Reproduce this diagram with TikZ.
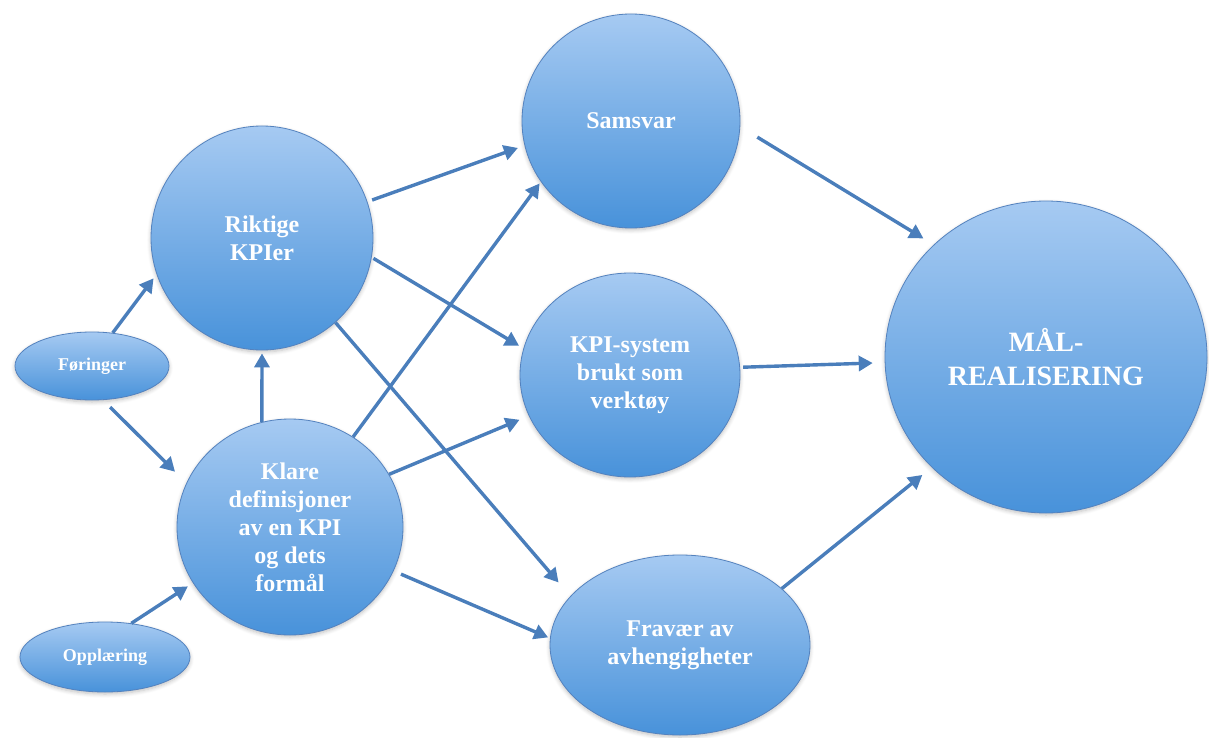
\documentclass[tikz,border=0pt]{standalone}
\usepackage{fontspec}
\setmainfont{Liberation Serif}
\usetikzlibrary{shapes.geometric,arrows.meta,shadows.blur}

\definecolor{bubtop}{RGB}{166,202,242}
\definecolor{bubbot}{RGB}{72,146,218}
\definecolor{bubline}{RGB}{84,130,190}
\definecolor{arrowc}{RGB}{74,126,187}

\tikzset{
  bub/.style={ellipse, inner sep=0pt, draw=bubline, line width=0.8pt,
    top color=bubtop, bottom color=bubbot, text=white, align=center,
    font=\bfseries\fontsize{24}{28}\selectfont,
    blur shadow={shadow xshift=0pt, shadow yshift=-2pt, shadow blur steps=6,
      shadow opacity=25, shadow blur radius=4pt}},
  smallbub/.style={bub, font=\bfseries\fontsize{18}{22}\selectfont},
  link/.style={draw=arrowc, line width=3.4pt,
    -{Triangle[length=14pt,width=15pt]}}
}

\begin{document}
\begin{tikzpicture}[x=1pt,y=-1pt]
  \useasboundingbox (0,0) rectangle (1209,738);

  % left inputs
  \node[smallbub, minimum width=154pt, minimum height=68pt] (for) at (92,366) {Føringer};
  \node[smallbub, minimum width=170pt, minimum height=70pt] (opp) at (105,657) {Opplæring};

  % first level
  \node[bub, minimum width=222pt, minimum height=224pt] (rik) at (262,238) {Riktige\\KPIer};
  \node[bub, minimum width=226pt, minimum height=216pt] (kla) at (290,527)
    {Klare\\definisjoner\\av en KPI\\og dets\\formål};

  % second level
  \node[bub, minimum width=218pt, minimum height=214pt] (sam) at (631,121) {Samsvar};
  \node[bub, minimum width=220pt, minimum height=204pt] (kpi) at (630,375)
    {KPI-system\\brukt som\\verktøy};
  \node[bub, minimum width=260pt, minimum height=180pt] (fra) at (680,645)
    {Fravær av\\avhengigheter};

  % goal
  \node[bub, minimum width=322pt, minimum height=312pt,
        font=\bfseries\fontsize{28}{34}\selectfont] (mal) at (1046,357)
    {MÅL-\\REALISERING};

  % connectors
  \draw[link, shorten >=5pt] (for.58) -- (rik.199);
  \draw[link, shorten <=10pt, shorten >=16pt] (for.288) -- (kla.157);
  \draw[link, shorten >=6pt] (opp.52) -- (kla.210);
  \draw[link, shorten >=3pt] (kla.105) -- (rik.270);

  \draw[link, shorten <=5pt, shorten >=7pt] (rik.19) -- (sam.193);
  \draw[link, shorten <=2pt, shorten >=5pt] (rik.-10) -- (kpi.166);
  \draw[link, shorten >=18pt] (rik.-49) -- (fra.156);

  \draw[link, shorten >=2pt] (kla.55) -- (sam.214);
  \draw[link, shorten >=10pt] (kla.28) -- (kpi.202);
  \draw[link, shorten <=8pt, shorten >=2pt] (kla.-23) -- (fra.177);

  \draw[link, shorten <=20pt, shorten >=12pt] (sam.-3) -- (mal.135);
  \draw[link, shorten <=3pt, shorten >=12pt] (kpi.4) -- (mal.182);
  \draw[link, shorten >=12pt] (fra.29) -- (mal.224);
\end{tikzpicture}
\end{document}
